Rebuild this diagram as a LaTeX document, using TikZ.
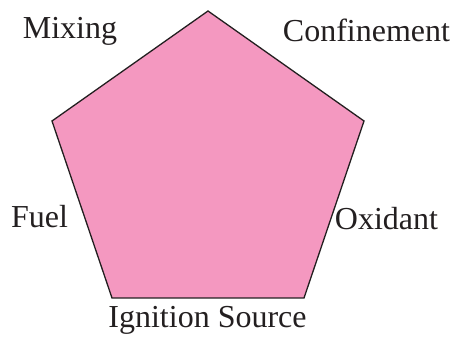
\documentclass[tikz,border=0pt]{standalone}
\usepackage{fontspec}
\setmainfont{Liberation Serif}
\definecolor{penfill}{HTML}{F498C0}
\definecolor{ink}{HTML}{231F20}
\begin{document}
\begin{tikzpicture}[x=1pt,y=-1pt,
  lbl/.style={anchor=base,inner sep=0pt,text=ink,font=\fontsize{32}{36}\selectfont}]
\useasboundingbox (0,0) rectangle (456,339);
\coordinate (t) at (208,11);
\coordinate (r) at (364,121);
\coordinate (br) at (304,298);
\coordinate (bl) at (112,298);
\coordinate (l) at (52,121);
\draw[fill=penfill,draw=ink,line width=1.3pt,line join=miter] (t) -- (r) -- (br) -- (bl) -- (l) -- cycle;
\node[lbl] (mix) at (70,38.5) {Mixing};
\node[lbl] (conf) at (366.5,42) {Confinement};
\node[lbl] (fuel) at (39.5,228) {Fuel};
\node[lbl] (oxi) at (386.5,230) {Oxidant};
\node[lbl] (ign) at (207.5,328) {Ignition Source};
\end{tikzpicture}
\end{document}
